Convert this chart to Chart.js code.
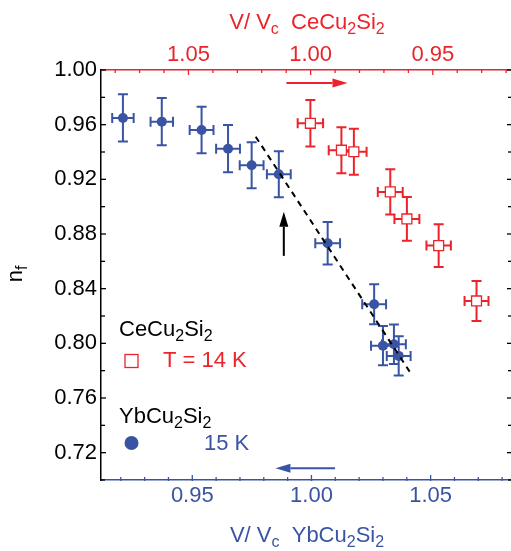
<!DOCTYPE html>
<html>
<head>
<meta charset="utf-8">
<script src="https://cdn.jsdelivr.net/npm/chart.js@4.4.0/dist/chart.umd.min.js"></script>
<style>
  body { margin: 0; background: #fff; }
  #graph_canvas { display: block; }
</style>
</head>
<body>
<canvas id="graph_canvas" width="511" height="551"></canvas>
<script>
// YbCu2Si2, 15 K (bottom axis, V/Vc)
const ybX    = [0.9209, 0.9372, 0.9539, 0.9650, 0.9749, 0.9863, 1.0068, 1.0263, 1.0300, 1.0346, 1.0366];
const ybY    = [0.9649, 0.9622, 0.9561, 0.9424, 0.9303, 0.9237, 0.8732, 0.8286, 0.7983, 0.7993, 0.7908];
const ybXErr = [0.0045, 0.0047, 0.0050, 0.0050, 0.0050, 0.0050, 0.0052, 0.0050, 0.0050, 0.0050, 0.0050];
const ybYErr = [0.0173, 0.0173, 0.0170, 0.0173, 0.0168, 0.0168, 0.0156, 0.0146, 0.0144, 0.0144, 0.0144];

// CeCu2Si2, T = 14 K (top axis, reversed)
const ceX    = [1.0001, 0.9874, 0.9823, 0.9674, 0.9606, 0.9476, 0.9321];
const ceY    = [0.9610, 0.9413, 0.9402, 0.9108, 0.8910, 0.8715, 0.8310];
const ceXErr = [0.0052, 0.0052, 0.0052, 0.0051, 0.0051, 0.0050, 0.0049];
const ceYErr = [0.0170, 0.0168, 0.0168, 0.0165, 0.0160, 0.0156, 0.0146];

// dashed guide (bottom axis units)
const guideX = [0.9766, 1.0412];
const guideY = [0.9512, 0.7793];

// arrows: [axis, from, to, fixed]
const arrowBlack = ['y', 0.8640, 0.8963, 0.9884];
const arrowRed   = ['x2', 1.0099, 0.9849, 0.9905];
const arrowBlue  = ['x', 1.0099, 0.9849, 0.7086];

const yTickLabels   = [0.72, 0.76, 0.80, 0.84, 0.88, 0.92, 0.96, 1.00];
const botTickLabels = [0.95, 1.00, 1.05];
const topTickLabels = [0.95, 1.00, 1.05];

const RED = 'rgb(234, 36, 42)';
const BLUE = 'rgb(58, 84, 164)';
const FONT = '"Liberation Sans", Arial, sans-serif';

function pts(xs, ys, xe, ye) {
  return xs.map((x, i) => ({x: x, y: ys[i], xErr: xe ? xe[i] : 0, yErr: ye ? ye[i] : 0}));
}

function setTicks(list) {
  return function(scale) { scale.ticks = list.map(v => ({value: v})); };
}

function fitTo(key, size) {
  return function(s) {
    s[key] = size;
    s.paddingLeft = 0; s.paddingRight = 0; s.paddingTop = 0; s.paddingBottom = 0;
  };
}

function rich(ctx, parts, x, y, color, align) {
  ctx.fillStyle = color;
  ctx.textBaseline = 'alphabetic';
  ctx.textAlign = 'left';
  var w = 0;
  parts.forEach(p => { ctx.font = (p[1] ? 16 : 22) + 'px ' + FONT; w += ctx.measureText(p[0]).width; });
  var cx = align === 'center' ? x - w / 2 : x;
  parts.forEach(p => {
    ctx.font = (p[1] ? 16 : 22) + 'px ' + FONT;
    ctx.fillText(p[0], cx, y + (p[1] ? 5 : 0));
    cx += ctx.measureText(p[0]).width;
  });
}

function tickMarks(ctx, scale, from, to, step, majors, side, color, lmin, lmaj) {
  var area = scale.chart.chartArea;
  ctx.strokeStyle = color;
  ctx.lineWidth = 1.3;
  for (var k = Math.round(from / step); k * step <= to + 1e-9; k++) {
    var v = k * step;
    var major = majors.some(m => Math.abs(m - v) < 1e-6);
    var len = major ? lmaj : lmin;
    var p = scale.getPixelForValue(v);
    ctx.beginPath();
    if (side === 'left')   { ctx.moveTo(area.left, p); ctx.lineTo(area.left + len, p); }
    if (side === 'right')  { ctx.moveTo(area.right + 1, p); ctx.lineTo(area.right + 1 - len, p); }
    if (side === 'top')    { ctx.moveTo(p, area.top - 1); ctx.lineTo(p, area.top + len); }
    if (side === 'bottom') { ctx.moveTo(p, area.bottom + 1); ctx.lineTo(p, area.bottom - len); }
    ctx.stroke();
  }
}

function arrow(ctx, chart, a, color) {
  var s = chart.scales;
  var x1, y1, x2, y2;
  if (a[0] === 'y') {
    x1 = x2 = s.x.getPixelForValue(a[3]);
    y1 = s.y.getPixelForValue(a[1]); y2 = s.y.getPixelForValue(a[2]);
  } else {
    y1 = y2 = s.y.getPixelForValue(a[3]);
    x1 = s[a[0]].getPixelForValue(a[1]); x2 = s[a[0]].getPixelForValue(a[2]);
  }
  var ang = Math.atan2(y2 - y1, x2 - x1);
  var hl = 15, hw = 4.5;
  var bx = x2 - hl * Math.cos(ang), by = y2 - hl * Math.sin(ang);
  ctx.strokeStyle = color; ctx.fillStyle = color; ctx.lineWidth = 2;
  ctx.beginPath(); ctx.moveTo(x1, y1); ctx.lineTo(bx, by); ctx.stroke();
  ctx.beginPath();
  ctx.moveTo(x2, y2);
  ctx.lineTo(bx + hw * Math.sin(ang), by - hw * Math.cos(ang));
  ctx.lineTo(bx - hw * Math.sin(ang), by + hw * Math.cos(ang));
  ctx.closePath(); ctx.fill();
}

const errorBars = {
  id: 'errorBars',
  beforeDatasetsDraw(chart) {
    const ctx = chart.ctx;
    chart.data.datasets.forEach((ds, i) => {
      if (!ds.errColor) return;
      const meta = chart.getDatasetMeta(i);
      ctx.save();
      ctx.strokeStyle = ds.errColor;
      ctx.lineWidth = 2;
      ds.data.forEach(d => {
        const px = meta.xScale.getPixelForValue(d.x), py = meta.yScale.getPixelForValue(d.y);
        const y0 = meta.yScale.getPixelForValue(d.y - d.yErr), y1 = meta.yScale.getPixelForValue(d.y + d.yErr);
        const x0 = meta.xScale.getPixelForValue(d.x - d.xErr), x1 = meta.xScale.getPixelForValue(d.x + d.xErr);
        ctx.beginPath();
        ctx.moveTo(px, y0); ctx.lineTo(px, y1);
        ctx.moveTo(px - 5, y0); ctx.lineTo(px + 5, y0);
        ctx.moveTo(px - 5, y1); ctx.lineTo(px + 5, y1);
        ctx.moveTo(x0, py); ctx.lineTo(x1, py);
        ctx.moveTo(x0, py - 5); ctx.lineTo(x0, py + 5);
        ctx.moveTo(x1, py - 5); ctx.lineTo(x1, py + 5);
        ctx.stroke();
      });
      ctx.restore();
    });
  },
  afterDraw(chart) {
    const ctx = chart.ctx, s = chart.scales;
    ctx.save();
    tickMarks(ctx, s.y, 0.70, 1.00, 0.02, yTickLabels, 'left', '#000', 4, 5);
    tickMarks(ctx, s.y, 0.70, 1.00, 0.02, yTickLabels, 'right', '#000', 3, 4);
    tickMarks(ctx, s.x, 0.92, 1.08, 0.01, botTickLabels, 'bottom', BLUE, 3, 5);
    tickMarks(ctx, s.x2, 0.92, 1.08, 0.01, topTickLabels, 'top', RED, 3, 5);

    arrow(ctx, chart, arrowBlack, '#000');
    arrow(ctx, chart, arrowRed, RED);
    arrow(ctx, chart, arrowBlue, BLUE);

    // axis titles
    rich(ctx, [['V/ V', 0], ['c', 1], ['  CeCu', 0], ['2', 1], ['Si', 0], ['2', 1]], 307, 29, RED, 'center');
    rich(ctx, [['V/ V', 0], ['c', 1], ['  YbCu', 0], ['2', 1], ['Si', 0], ['2', 1]], 307, 542, BLUE, 'center');
    ctx.save();
    ctx.translate(22, 274);
    ctx.rotate(-Math.PI / 2);
    rich(ctx, [['n', 0], ['f', 1]], 0, 0, '#000', 'center');
    ctx.restore();

    // legend
    rich(ctx, [['CeCu', 0], ['2', 1], ['Si', 0], ['2', 1]], 119, 336, '#000');
    ctx.strokeStyle = RED; ctx.lineWidth = 1.3;
    ctx.strokeRect(125, 354.5, 13, 13);
    rich(ctx, [['T = 14 K', 0]], 163, 367, RED);
    rich(ctx, [['YbCu', 0], ['2', 1], ['Si', 0], ['2', 1]], 119, 423, '#000');
    ctx.fillStyle = BLUE;
    ctx.beginPath(); ctx.arc(131.5, 443, 7, 0, 2 * Math.PI); ctx.fill();
    rich(ctx, [['15 K', 0]], 204, 450, BLUE);
    ctx.restore();
  }
};

const config = {
  type: 'scatter',
  data: {
    datasets: [{
      label: 'guide',
      type: 'line',
      data: pts(guideX, guideY),
      xAxisID: 'x', yAxisID: 'y',
      borderColor: '#000', borderWidth: 2, borderDash: [6, 5],
      pointRadius: 0, fill: false, order: 0
    }, {
      label: 'YbCu2Si2 15 K',
      data: pts(ybX, ybY, ybXErr, ybYErr),
      xAxisID: 'x', yAxisID: 'y',
      pointStyle: 'circle', pointRadius: 5,
      backgroundColor: BLUE, borderColor: BLUE, borderWidth: 0,
      errColor: BLUE, order: 1
    }, {
      label: 'CeCu2Si2 T = 14 K',
      data: pts(ceX, ceY, ceXErr, ceYErr),
      xAxisID: 'x2', yAxisID: 'y',
      pointStyle: 'rect', pointRadius: 7,
      backgroundColor: '#fff', borderColor: RED, borderWidth: 1.3,
      errColor: RED, order: 2
    }]
  },
  options: {
    responsive: false,
    animation: false,
    devicePixelRatio: 1,
    layout: { padding: 0, autoPadding: false },
    plugins: { legend: { display: false }, tooltip: { enabled: false } },
    scales: {
      x: {
        type: 'linear', position: 'bottom', min: 0.9117, max: 1.0833,
        grid: { display: false, drawTicks: false },
        border: { color: BLUE, width: 1.5 },
        afterBuildTicks: setTicks(botTickLabels),
        afterFit: fitTo('height', 71),
        ticks: { color: BLUE, padding: 3, autoSkip: false, maxRotation: 0,
                 font: { family: FONT, size: 22 }, callback: v => v.toFixed(2) }
      },
      x2: {
        type: 'linear', position: 'top', reverse: true, min: 0.9184, max: 1.0858,
        grid: { display: false, drawTicks: false },
        border: { color: RED, width: 1.5 },
        afterBuildTicks: setTicks(topTickLabels),
        afterFit: fitTo('height', 70),
        ticks: { color: RED, padding: 2, autoSkip: false, maxRotation: 0,
                 font: { family: FONT, size: 22 }, callback: v => v.toFixed(2) }
      },
      y: {
        type: 'linear', position: 'left', min: 0.70, max: 1.00,
        grid: { display: false, drawTicks: false },
        border: { color: '#000', width: 1.5 },
        afterBuildTicks: setTicks(yTickLabels),
        afterFit: fitTo('width', 101),
        ticks: { color: '#000', padding: 4, autoSkip: false,
                 font: { family: FONT, size: 22 }, callback: v => v.toFixed(2) }
      },
      y2: {
        type: 'linear', position: 'right', min: 0.70, max: 1.00,
        grid: { display: false, drawTicks: false },
        border: { display: false },
        ticks: { display: false },
        afterFit: fitTo('width', 1)
      }
    }
  },
  plugins: [errorBars]
};

const ctx = document.getElementById('graph_canvas');
var myChart = new Chart(ctx, config);
</script>
</body>
</html>
